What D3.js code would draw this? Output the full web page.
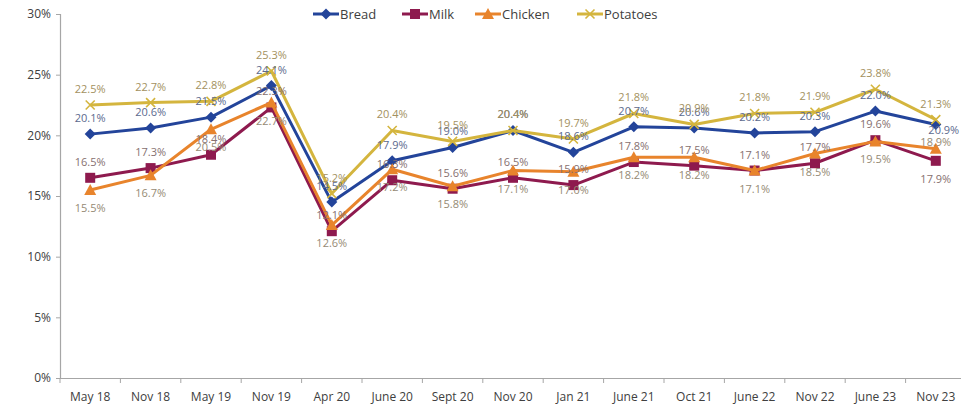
<!DOCTYPE html>
<html>
<head>
<meta charset="utf-8">
<script src="https://cdn.jsdelivr.net/npm/d3@7"></script>
<style>
  html, body { margin: 0; padding: 0; background: #fff; }
  svg { display: block; font-family: "Open Sans", "Noto Sans", sans-serif; }
</style>
</head>
<body>
<svg id="chart" width="961" height="407"></svg>
<script>
// Survey periods
const categories = ["May 18", "Nov 18", "May 19", "Nov 19", "Apr 20", "June 20", "Sept 20", "Nov 20",
  "Jan 21", "June 21", "Oct 21", "June 22", "Nov 22", "June 23", "Nov 23"];

// Share of respondents (%) per product
const bread    = [20.1, 20.6, 21.5, 24.1, 14.5, 17.9, 19.0, 20.4, 18.6, 20.7, 20.6, 20.2, 20.3, 22.0, 20.9];
const milk     = [16.5, 17.3, 18.4, 22.3, 12.1, 16.3, 15.6, 16.5, 15.9, 17.8, 17.5, 17.1, 17.7, 19.6, 17.9];
const chicken  = [15.5, 16.7, 20.5, 22.7, 12.6, 17.2, 15.8, 17.1, 17.0, 18.2, 18.2, 17.1, 18.5, 19.5, 18.9];
const potatoes = [22.5, 22.7, 22.8, 25.3, 15.2, 20.4, 19.5, 20.4, 19.7, 21.8, 20.9, 21.8, 21.9, 23.8, 21.3];

const yTicks = [0, 5, 10, 15, 20, 25, 30];

const series = [
  { name: "Bread",    values: bread,    color: "#23449a", label: "#5b6a8e", marker: "diamond",  pos: "above" },
  { name: "Milk",     values: milk,     color: "#8e1a4e", label: "#86706f", marker: "square",   pos: "above" },
  { name: "Chicken",  values: chicken,  color: "#e8842c", label: "#958a74", marker: "triangle", pos: "below" },
  { name: "Potatoes", values: potatoes, color: "#d4b53e", label: "#a39160", marker: "cross",    pos: "above" }
];

// Individual label placements that differ from the series default
const labelOverrides = {
  "Bread|14":   { dx: 8, dy: 10 },
  "Milk|14":    { pos: "below" },
  "Chicken|14": { dy: -3 }
};

const svg = d3.select("#chart");
const plotLeft = 60, plotTop = 14, plotBottom = 378, plotRight = 966;

const x = d3.scaleBand().domain(categories).range([plotLeft, plotRight]).padding(0);
const y = d3.scaleLinear().domain([0, 30]).range([plotBottom, plotTop]);
const cx = d => x(d) + x.bandwidth() / 2;

// Y axis
const yAxis = svg.append("g")
  .attr("transform", `translate(${plotLeft},0)`)
  .call(d3.axisLeft(y).tickValues(yTicks).tickFormat(d => d + "%").tickSize(4).tickPadding(5));
yAxis.select(".domain").attr("stroke", "#a6a6a6").attr("stroke-width", 1.2);
yAxis.selectAll(".tick line").attr("stroke", "#a6a6a6");
yAxis.selectAll("text").attr("fill", "#404040").style("font-size", "12px").style("font-family", "'Open Sans', sans-serif");

// X axis with ticks between categories
const xAxis = svg.append("g")
  .attr("transform", `translate(0,${plotBottom})`)
  .call(d3.axisBottom(x).tickSize(0).tickPadding(14));
xAxis.select(".domain").attr("stroke", "#a6a6a6").attr("stroke-width", 1.2);
xAxis.selectAll("text").attr("fill", "#404040").style("font-size", "12px").style("font-family", "'Open Sans', sans-serif");
xAxis.selectAll(".sep")
  .data(categories.map(c => x(c)).concat([plotRight]))
  .join("line")
  .attr("class", "sep")
  .attr("x1", d => d).attr("x2", d => d)
  .attr("y1", 0).attr("y2", 5)
  .attr("stroke", "#a6a6a6");

function drawMarker(g, type, color) {
  if (type === "diamond") {
    g.append("path").attr("d", "M0,-5.5L5.5,0L0,5.5L-5.5,0Z").attr("fill", color);
  } else if (type === "square") {
    g.append("rect").attr("x", -5).attr("y", -5).attr("width", 10).attr("height", 10).attr("fill", color);
  } else if (type === "triangle") {
    g.append("path").attr("d", "M0,-6L6,5L-6,5Z").attr("fill", color);
  } else {
    g.append("path").attr("d", "M-4.5,-4.5L4.5,4.5M-4.5,4.5L4.5,-4.5")
      .attr("stroke", color).attr("stroke-width", 1.6).attr("fill", "none");
  }
}

const line = d3.line().x((d, i) => cx(categories[i])).y(d => y(d));

// Lines and markers, drawn in series order
series.forEach(s => {
  const g = svg.append("g");
  g.append("path")
    .attr("d", line(s.values))
    .attr("fill", "none")
    .attr("stroke", s.color)
    .attr("stroke-width", 3)
    .attr("stroke-linejoin", "round");
  s.values.forEach((v, i) => {
    const m = g.append("g").attr("transform", `translate(${cx(categories[i])},${y(v)})`);
    drawMarker(m, s.marker, s.color);
  });
});

// Data labels
series.forEach(s => {
  s.values.forEach((v, i) => {
    const o = labelOverrides[s.name + "|" + i] || {};
    const pos = o.pos || s.pos;
    let dy = pos === "above" ? -12 : 22;
    if (o.dy !== undefined) dy = o.dy;
    const dx = o.dx || 0;
    svg.append("text")
      .attr("x", cx(categories[i]) + dx)
      .attr("y", y(v) + dy)
      .attr("text-anchor", "middle")
      .attr("fill", s.label)
      .style("font-size", "11px")
      .text(v.toFixed(1) + "%");
  });
});

// Legend
const legendX = [313, 402, 475, 577];
const legend = svg.append("g");
series.forEach((s, i) => {
  const g = legend.append("g").attr("transform", `translate(${legendX[i]},14)`);
  g.append("line").attr("x1", 0).attr("x2", 26).attr("y1", 0).attr("y2", 0)
    .attr("stroke", s.color).attr("stroke-width", 3);
  const m = g.append("g").attr("transform", "translate(13,0)");
  drawMarker(m, s.marker, s.color);
  g.append("text").attr("x", 27).attr("y", 4.5)
    .attr("fill", "#404040").style("font-size", "13px").text(s.name);
});
</script>
</body>
</html>
